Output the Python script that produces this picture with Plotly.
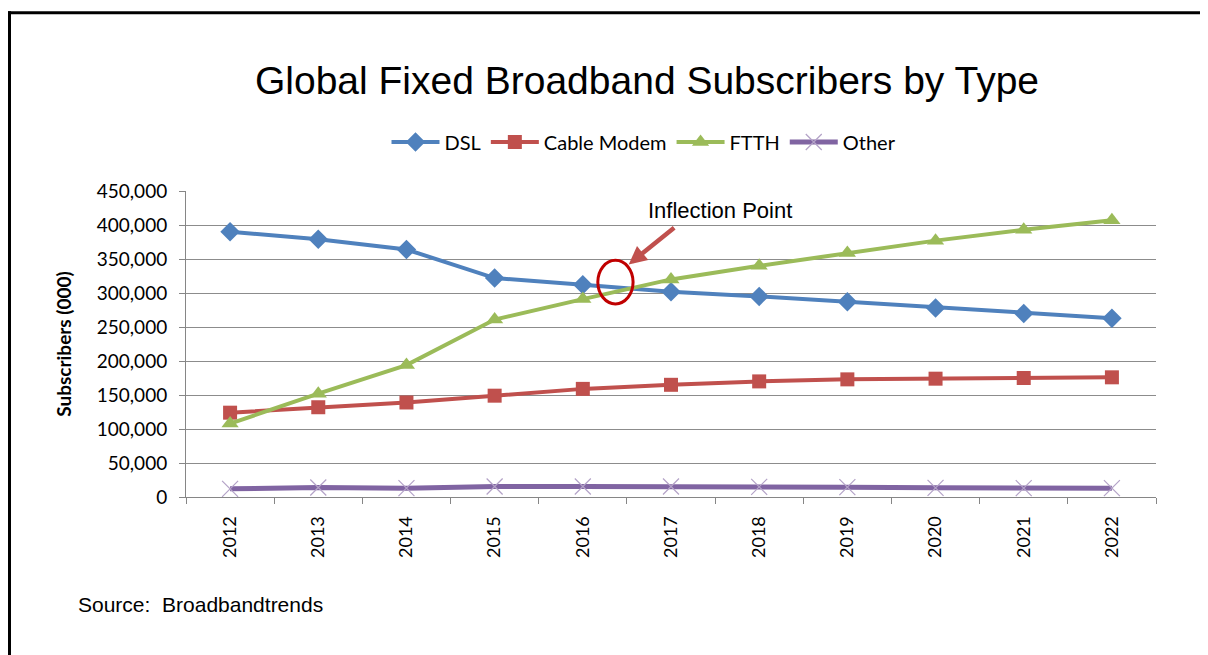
import plotly.graph_objects as go

years = ["2012", "2013", "2014", "2015", "2016", "2017", "2018", "2019", "2020", "2021", "2022"]
dsl = [390000, 379000, 364000, 322000, 312000, 302000, 295000, 287000, 278000, 270000, 263000]
cable = [124000, 132000, 139000, 149000, 159000, 165000, 170000, 173000, 174000, 175000, 176000]
ftth = [108000, 152000, 194000, 261000, 291000, 320000, 340000, 359000, 377000, 393000, 407000]
other = [12000, 14000, 13000, 15500, 15500, 15500, 15000, 14500, 13500, 13000, 13000]

# page body has an 8px margin; figure coordinates are page coordinates minus 8
OFF = 8
W, H = 1200, 647
L, R, T, B = 178, 52, 183, 158
PW, PH = W - L - R, H - T - B


def px(xp):
    return (xp - OFF - L) / PW


def py(yp):
    return (H - B - (yp - OFF)) / PH


fig = go.Figure()
fig.add_trace(go.Scatter(x=years, y=dsl, name="DSL", mode="lines+markers",
                         line=dict(color="#4F81BD", width=4),
                         marker=dict(symbol="diamond", size=15, color="#4F81BD")))
fig.add_trace(go.Scatter(x=years, y=cable, name="Cable Modem", mode="lines+markers",
                         line=dict(color="#C0504D", width=4),
                         marker=dict(symbol="square", size=14, color="#C0504D")))
fig.add_trace(go.Scatter(x=years, y=ftth, name="FTTH", mode="lines+markers",
                         line=dict(color="#9BBB59", width=4),
                         marker=dict(symbol="triangle-up", size=15, color="#9BBB59")))
fig.add_trace(go.Scatter(x=years, y=other, name="Other", mode="lines+markers",
                         line=dict(color="#8064A2", width=5),
                         marker=dict(symbol="x-thin-open", size=16, color="#B3A2C7",
                                     line=dict(color="#B3A2C7", width=1.2))))

fig.update_layout(
    width=W, height=H, autosize=False,
    margin=dict(l=L, r=R, t=T, b=B),
    paper_bgcolor="white", plot_bgcolor="white",
    font=dict(family="Lato, Arial, sans-serif", color="#000000"),
    title=dict(text="Global Fixed Broadband Subscribers by Type",
               font=dict(family="Liberation Sans, Arial, sans-serif", size=39, color="#000000"),
               x=(647 - OFF) / W, xanchor="center", y=1 - (80 - OFF) / H, yanchor="middle"),
    legend=dict(orientation="h", x=px(644), xanchor="center", y=py(142), yanchor="middle",
                font=dict(size=20, color="#000000"), itemwidth=48, tracegroupgap=0,
                bgcolor="rgba(0,0,0,0)"),
    showlegend=True,
)

fig.update_xaxes(type="category", range=[-0.5, 10.5], tickson="boundaries",
                 ticks="outside", ticklen=6, tickcolor="#868686",
                 showline=True, linecolor="#868686", linewidth=1,
                 showgrid=False, tickangle=-90, ticklabelstandoff=11,
                 tickfont=dict(size=18, color="#000000"))
fig.update_yaxes(range=[0, 450000], dtick=50000, tickformat=",",
                 ticks="outside", ticklen=6, tickcolor="#868686",
                 showline=True, linecolor="#868686", linewidth=1,
                 showgrid=True, gridcolor="#8C8C8C", gridwidth=1, zeroline=False,
                 tickfont=dict(size=19, color="#000000"), ticklabelstandoff=8,
                 title=dict(text="<b>Subscribers (000)</b>", font=dict(size=19, color="#000000"),
                            standoff=20))

# Inflection point marker (ellipse) and arrow
fig.add_shape(type="circle", xref="x", yref="y",
              x0=4.37 - 0.2, x1=4.37 + 0.2, y0=316000 - 32000, y1=316000 + 32000,
              line=dict(color="#C00000", width=3), fillcolor="rgba(0,0,0,0)")
fig.add_annotation(x=4.52, y=342000, xref="x", yref="y", ax=47, ay=-38,
                   showarrow=True, arrowhead=2, arrowsize=0.8, arrowwidth=4.5,
                   arrowcolor="#C0504D", text="")
fig.add_annotation(x=5.56, y=422000, xref="x", yref="y", showarrow=False,
                   text="Inflection Point",
                   font=dict(family="Liberation Sans, Arial, sans-serif", size=22, color="#000000"))

# Source note
fig.add_annotation(x=px(76), y=py(604), xref="paper", yref="paper", xanchor="left",
                   yanchor="middle", showarrow=False, text="Source:\u00a0 Broadbandtrends",
                   font=dict(family="Liberation Sans, Arial, sans-serif", size=21, color="#000000"))

# Frame lines (top and left)
fig.add_shape(type="line", xref="paper", yref="paper", x0=px(8), x1=px(1215), y0=py(12.8), y1=py(12.8),
              line=dict(color="#000000", width=3))
fig.add_shape(type="line", xref="paper", yref="paper", x0=px(9.5), x1=px(9.5), y0=py(11.3), y1=py(665),
              line=dict(color="#000000", width=3))

fig.write_html("out.html")
